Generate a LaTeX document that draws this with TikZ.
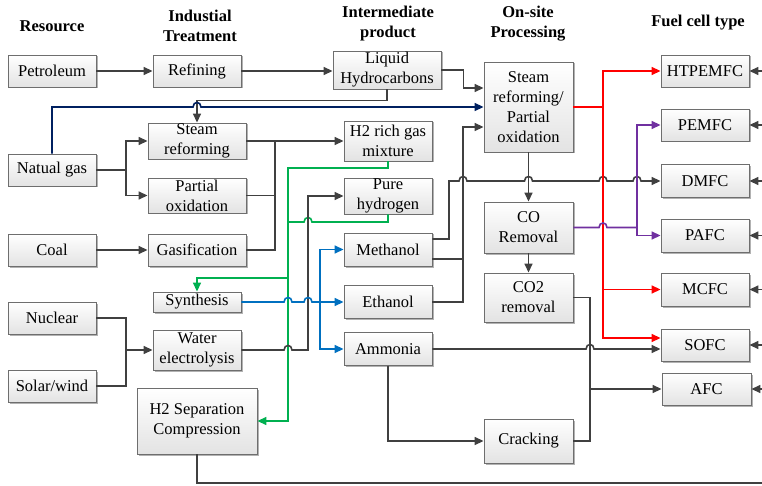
\documentclass[tikz,border=0pt]{standalone}
\usepackage{fontspec}
\setmainfont{Liberation Serif}
\usetikzlibrary{arrows.meta,shadows}
\definecolor{lc}{RGB}{64,64,64}
\definecolor{bd}{RGB}{110,110,110}
\definecolor{nv}{RGB}{0,32,96}
\definecolor{gn}{RGB}{0,176,80}
\definecolor{bl}{RGB}{0,112,192}
\definecolor{rd}{RGB}{255,0,0}
\definecolor{pu}{RGB}{112,48,160}
\tikzset{
  bx/.style={draw=bd, line width=0.9pt, top color=white, bottom color=gray!22,
    drop shadow={shadow xshift=1.5pt,shadow yshift=-1.5pt,opacity=0.3,fill=black},
    inner sep=0pt, align=center, font=\fontsize{16.5}{20}\selectfont},
  wh/.style 2 args={minimum width=#1pt, minimum height=#2pt},
  ln/.style={draw=lc, line width=1.6pt},
  ar/.style={ln, -{Triangle[length=9pt,width=8pt]}},
  hd/.style={font=\fontsize{16.5}{20}\selectfont\bfseries, align=center},
  hop/.style 2 args={insert path={-- ({#1-4},#2) .. controls ({#1-4},{#2-6}) and ({#1+4},{#2-6}) .. ({#1+4},#2)}},
}
\begin{document}
\begin{tikzpicture}[x=1pt,y=-1pt]
\useasboundingbox (0,0) rectangle (762,486);
% headers
\node[hd] (hres) at (52,26) {Resource};
\node[hd] (hind) at (200,25.5) {Industial\\Treatment};
\node[hd] (hint) at (388,24) {Intermediate\\product};
\node[hd] (hons) at (528,23.5) {On-site\\Processing};
\node[hd] (hfc) at (698,23) {Fuel cell type};
% resources
\node[bx,wh={88}{32}] (pet) at (52,71) {Petroleum};
\node[bx,wh={88}{32}] (nat) at (52,170) {Natual gas};
\node[bx,wh={88}{32}] (coal) at (52,250) {Coal};
\node[bx,wh={88}{32}] (nuc) at (52,318) {Nuclear};
\node[bx,wh={88}{32}] (sol) at (52,386) {Solar/wind};
% industrial treatment
\node[bx,wh={88}{32}] (ref) at (197,71) {Refining};
\node[bx,wh={98}{36}] (isr) at (197,141) {Steam\\reforming};
\node[bx,wh={98}{35}] (pox) at (197,195.5) {Partial\\oxidation};
\node[bx,wh={98}{32}] (gas) at (197,250) {Gasification};
\node[bx,wh={88}{20}] (syn) at (197,302) {Synthesis};
\node[bx,wh={88}{40}] (wel) at (197,350) {Water\\electrolysis};
\node[bx,wh={120}{66}] (hsep) at (197,421) {H2 Separation\\Compression};
% intermediate
\node[bx,wh={108}{38}] (liq) at (387,70) {Liquid\\Hydrocarbons};
\node[bx,wh={88}{40}] (h2r) at (388,141) {H2 rich gas\\mixture};
\node[bx,wh={88}{36}] (pure) at (388,196) {Pure\\hydrogen};
\node[bx,wh={88}{33}] (meth) at (388,249.5) {Methanol};
\node[bx,wh={88}{33}] (eth) at (388,302) {Ethanol};
\node[bx,wh={88}{33}] (amm) at (388,349) {Ammonia};
% on-site
\node[bx,wh={89}{90}] (osr) at (528.5,107) {Steam\\reforming/\\Partial\\oxidation};
\node[bx,wh={89}{51}] (cor) at (528.5,227.5) {CO\\Removal};
\node[bx,wh={89}{49}] (co2) at (528.5,297.5) {CO2\\removal};
\node[bx,wh={89}{44}] (crk) at (528.5,441) {Cracking};
% fuel cells
\node[bx,wh={88}{32}] (htp) at (705,71) {HTPEMFC};
\node[bx,wh={88}{32}] (pem) at (705,125) {PEMFC};
\node[bx,wh={88}{33}] (dmf) at (705,181) {DMFC};
\node[bx,wh={88}{33}] (paf) at (705,235.5) {PAFC};
\node[bx,wh={88}{33}] (mcf) at (705,289.5) {MCFC};
\node[bx,wh={88}{32}] (sof) at (705,345) {SOFC};
\node[bx,wh={89}{32}] (afc) at (706.5,389) {AFC};
% coordinates
\coordinate (redge) at (762,0);
\coordinate (nj) at (126,170);
\coordinate (tj) at (275,141);
\coordinate (gt) at (288,168);
\coordinate (bj) at (320,302);
\coordinate (wj) at (126,350);
\coordinate (rj) at (603,107);
\coordinate (pj) at (637,227.5);
\coordinate (cj) at (590,389);
% connectors
\draw[ar] (pet.east) -- (ref.west);
\draw[ar] (ref.east) -- (ref.east -| liq.west);
\draw[ar] (liq.east) -- ++(22,0) |- (osr.west |- 0,88);
\draw[ar] (liq.south) -- ++(0,11) -| (isr.north);
\draw[ar,draw=nv] (nat.north) |- (190,107) [hop={197}{107}] -- (osr.west);
\draw[ln] (nat.east) -- (nj);
\draw[ar] (nj) |- (isr.west);
\draw[ar] (nj) |- (pox.west);
\draw[ar] (coal.east) -- (gas.west);
\draw[ar] (isr.east) -- (h2r.west);
\draw[ln] (pox.east) -| (tj);
\draw[ln] (gas.east) -| (tj);
% green
\draw[ar,draw=gn] (h2r.south) |- (gt) |- (hsep.east);
\draw[ar,draw=gn] (288,278) -| (syn.north);
\draw[ln,draw=gn] (288,222) [hop={308}{222}] -| (pure.south);
% water electrolysis
\draw[ar] (wel.east) [hop={288}{350}] -- (308,350) |- (pure.west);
% synthesis blue
\draw[ln,draw=bl] (syn.east) [hop={288}{302}] [hop={308}{302}] -- (bj);
\draw[ar,draw=bl] (bj) |- (meth.west);
\draw[ar,draw=bl] (bj) -- (eth.west);
\draw[ar,draw=bl] (bj) |- (amm.west);
% nuclear / solar
\draw[ln] (nuc.east) -| (wj);
\draw[ln] (sol.east) -| (wj);
\draw[ar] (wj) -- (wel.west);
% methanol / ethanol
\draw[ar] (meth.east |- 0,239) -| (449,181) [hop={463}{181}] [hop={528.5}{181}] [hop={603}{181}] [hop={637}{181}] -- (dmf.west);
\draw[ln] (meth.east |- 0,259) -- (463,259);
\draw[ar] (eth.east) -| (463,127) -- (osr.west |- 0,127);
% on-site chain
\draw[ar] (osr.south) -- (cor.north);
\draw[ar] (cor.south) -- (co2.north);
% red
\draw[ln,draw=rd] (osr.east) -- (rj);
\draw[ar,draw=rd] (rj) |- (htp.west);
\draw[ar,draw=rd] (rj) |- (mcf.west);
\draw[ar,draw=rd] (rj) |- (sof.west |- 0,338);
% purple
\draw[ln,draw=pu] (cor.east) [hop={603}{227.5}] -- (pj);
\draw[ar,draw=pu] (pj) |- (pem.west);
\draw[ar,draw=pu] (pj) |- (paf.west);
% co2 / cracking
\draw[ln] (co2.east) -| (cj);
\draw[ln] (crk.east) -| (cj);
\draw[ar] (cj) -- (afc.west);
% ammonia
\draw[ar] (amm.east) [hop={590}{349}] -- (sof.west |- amm.east);
\draw[ar] (amm.south) |- (crk.west);
% bottom line
\draw[ln] (hsep.south) |- (redge |- 0,483);
% right side inputs
\foreach \n in {htp,pem,dmf,paf,mcf,sof,afc} \draw[ar] (\n.east -| redge) -- (\n.east);
\end{tikzpicture}
\end{document}
